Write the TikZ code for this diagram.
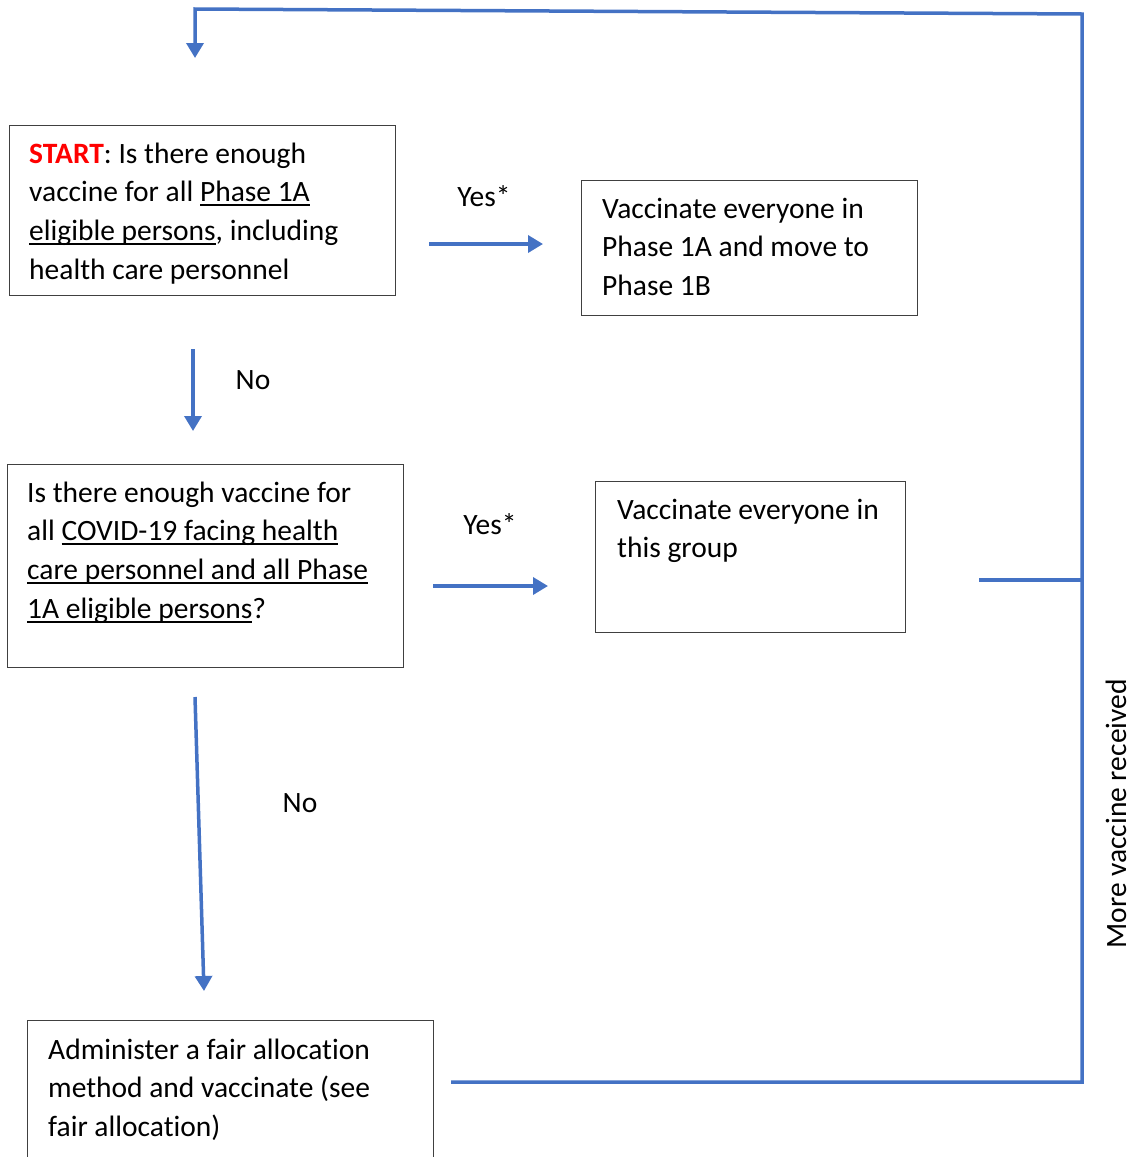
\documentclass[tikz,border=0pt]{standalone}
\usepackage{fontspec}
\setmainfont{Carlito}[RawFeature={-liga;-clig;-calt}]
\usepackage{xcolor}
\usetikzlibrary{arrows.meta}
\definecolor{flowblue}{HTML}{4472C4}
\definecolor{startred}{HTML}{FF0000}
\definecolor{boxgray}{HTML}{404040}
\newcommand{\ulin}[1]{\setbox0\hbox{#1}\rlap{\rule[-4.5pt]{\wd0}{2pt}}\box0}

\begin{document}
\begin{tikzpicture}[x=1pt, y=-1pt, >={Triangle[length=15pt,width=17pt]},
        flow/.style={->, draw=flowblue, line width=3.5pt},
        wire/.style={draw=flowblue, line width=3.5pt},
        qbox/.style={draw=boxgray, line width=1.3pt, anchor=north west, inner sep=0pt},
        txt/.style={anchor=north west, align=left, inner sep=0pt, font=\fontsize{29.5}{38.7}\selectfont},
        lbl/.style={inner sep=0pt, font=\fontsize{29.5}{34}\selectfont}]
        \useasboundingbox (0,0) rectangle (1134,1157);
        \clip (0,0) rectangle (1134,1157);

        % Question and action boxes
        \node[qbox, minimum width=386, minimum height=170] (q1) at (9,125) {};
        \node[qbox, minimum width=336, minimum height=135] (a1) at (581,180) {};
        \node[qbox, minimum width=396, minimum height=203] (q2) at (7,464) {};
        \node[qbox, minimum width=310, minimum height=151] (a2) at (595,481) {};
        \node[qbox, minimum width=406, minimum height=170] (fair) at (27,1020) {};

        % Box texts
        \node[txt] (q1t) at (29,135.9) {\strut\textcolor{startred}{\textbf{START}}: Is there enough\\
            vaccine for all \ulin{Phase 1A}\\
            \ulin{eligible persons}, including\\
            health care personnel};
        \node[txt] (a1t) at (602,190.9) {\strut Vaccinate everyone in\\ Phase 1A and move to\\ Phase 1B};
        \node[txt] (q2t) at (27,474.9) {\strut Is there enough vaccine for\\
            all \ulin{COVID-19 facing health}\\
            \ulin{care personnel and all Phase}\\
            \ulin{1A eligible persons}?};
        \node[txt] (a2t) at (617,491.9) {\strut Vaccinate everyone in\\ this group};
        \node[txt] (fairt) at (48,1031.9) {\strut Administer a fair allocation\\ method and vaccinate (see\\ fair allocation)};

        % Arrow labels
        \node[lbl] (yes1) at (484,196) {Yes*};
        \node[lbl] (no1) at (253,380) {No};
        \node[lbl] (yes2) at (490,524) {Yes*};
        \node[lbl] (no2) at (300,803) {No};
        \node[lbl, rotate=90] (more) at (1116,814) {More vaccine received};

        % Arrow end points
        \coordinate (y1s) at (429,244);
        \coordinate (y1e) at (543,244);
        \coordinate (n1s) at (193,349);
        \coordinate (n1e) at (193,431);
        \coordinate (y2s) at (433,586);
        \coordinate (y2e) at (548,586);
        \coordinate (n2s) at (195,697);
        \coordinate (n2e) at (204,991);

        % Return loop
        \coordinate (ret) at (451,1082);
        \coordinate (rb) at (1082,1082);
        \coordinate (rt) at (1082,14);
        \coordinate (lt) at (195,9);
        \coordinate (top) at (195,58);
        \coordinate (stub) at (979,580);
        \coordinate (rs) at (1082,580);

        \draw[flow] (y1s) -- (y1e);
        \draw[flow] (n1s) -- (n1e);
        \draw[flow] (y2s) -- (y2e);
        \draw[flow] (n2s) -- (n2e);
        \draw[flow] (ret) -- (rb) -- (rt) -- (lt) -- (top);
        \draw[wire] (stub) -- (rs);
    \end{tikzpicture}
\end{document}
